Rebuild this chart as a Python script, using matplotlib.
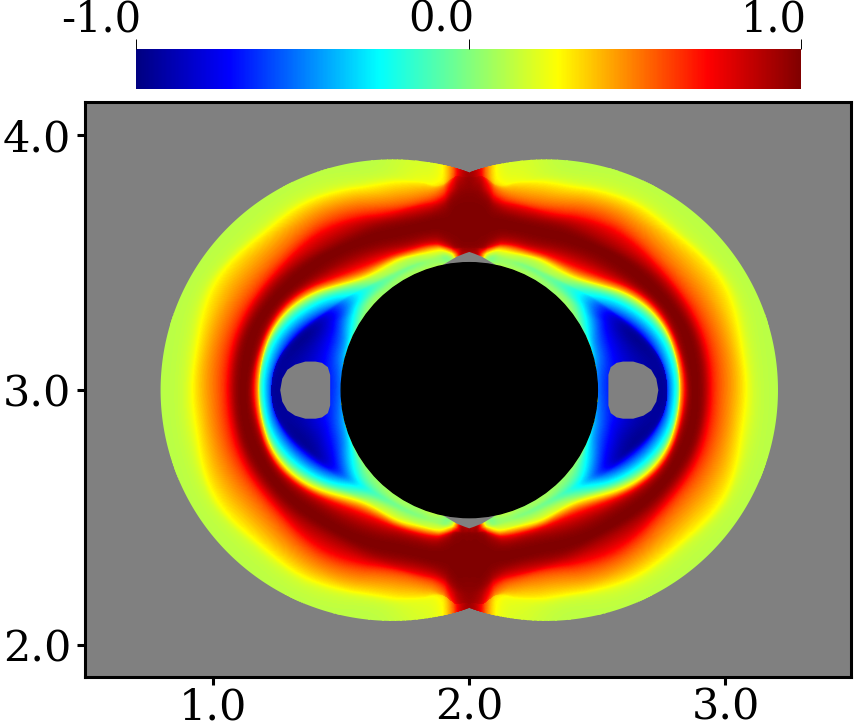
import matplotlib
matplotlib.use("Agg")
import matplotlib.pyplot as plt
import matplotlib.tri as mtri
import numpy as np
from matplotlib.cm import ScalarMappable
from matplotlib.colors import LinearSegmentedColormap, Normalize
from matplotlib.patches import Circle, Polygon

plt.rcParams["font.family"] = ["DejaVu Serif"]

# field, one quadrant: rays around (2, 3), angle in degrees
ray_angles = [0, 12, 24, 36, 48, 60, 70, 78, 83, 86, 88, 90]

# radius of each node along a ray
ray_radii = [
    [.50, .520, .740, .775, .805, .824, .840, .858, .885, .914, .941, 1.00, 1.078, 1.137, 1.30],
    [.50, .525, .700, .745, .790, .815, .830, .845, .878, .908, .935, .995, 1.075, 1.135, 1.30],
    [.50, .530, .630, .670, .730, .775, .795, .815, .845, .875, .905, .965, 1.07, 1.12, 1.30],
    [.50, .530, .580, .610, .640, .685, .715, .750, .795, .830, .870, .925, 1.015, 1.07, 1.30],
    [.50, .520, .545, .565, .580, .603, .640, .695, .745, .780, .840, .900, .975, 1.035, 1.25],
    [.50, .515, .530, .545, .560, .585, .610, .650, .700, .745, .785, .840, .910, .970, 1.20],
    [.50, .515, .530, .540, .555, .570, .595, .625, .672, .715, .750, .790, .865, .920, 1.15],
    [.50, .510, .525, .540, .550, .565, .585, .615, .665, .710, .745, .780, .825, .875, 1.10],
    [.50, .510, .520, .530, .540, .550, .565, .590, .660, .720, .750, .785, .810, .850, 1.05],
    [.50, .510, .520, .530, .540, .550, .560, .580, .660, .740, .780, .810, .835, .860, 1.05],
    [.50, .510, .520, .530, .540, .550, .560, .580, .660, .740, .780, .810, .835, .860, 1.05],
    [.50, .510, .520, .530, .540, .550, .560, .580, .660, .740, .780, .810, .835, .860, 1.05],
]

# field value at those nodes
ray_values = [
    [.05, -.60, -.95, -.72, -.27, .27, .65, .92, 1.0, .92, .72, .50, .27, .14, .10],
    [.05, -.55, -.95, -.72, -.27, .27, .65, .92, 1.0, .92, .72, .50, .27, .14, .10],
    [.05, -.45, -.88, -.72, -.27, .27, .65, .92, 1.0, .92, .72, .50, .27, .14, .10],
    [.05, -.15, -.45, -.38, -.20, .27, .65, .92, 1.0, .92, .72, .50, .27, .14, .10],
    [.05, .00, -.12, -.05, .05, .27, .65, .92, 1.0, .92, .72, .50, .27, .14, .10],
    [.05, .05, -.02, .02, .10, .27, .65, .92, 1.0, .92, .72, .50, .27, .14, .10],
    [.10, .05, .02, .05, .12, .27, .65, .92, 1.0, .92, .72, .50, .27, .15, .11],
    [.10, .05, .03, .07, .15, .30, .65, .92, 1.0, .92, .72, .50, .30, .20, .14],
    [.20, .10, .08, .15, .25, .45, .75, .95, 1.0, .95, .82, .60, .40, .27, .20],
    [.60, .60, .60, .70, .75, .80, .90, .98, 1.0, .98, .90, .80, .65, .55, .45],
    [.80, .80, .80, .85, .88, .92, .95, .99, 1.0, .99, .96, .92, .87, .82, .75],
    [.90, .90, .90, .90, .91, .93, .96, .99, 1.0, .99, .97, .95, .93, .92, .90],
]

# colour bar stops as seen on the reference bar
cmap_stops = [-1.0, -0.72, -0.27, 0.27, 0.72, 1.0]
cmap_colors = ["#000080", "#0000ff", "#00ffff", "#ffff00", "#ff0000", "#800000"]

# outlines of the grey spots, upper right quadrant, relative to (2, 3)
hole_x = [.543, .543, .552, .575, .600, .640, .680, .710, .730, .738]
hole_y = [0, .060, .090, .107, .112, .112, .100, .080, .045, 0]
bump_x = [.105, .050, .020, 0]
bump_y = [.490, .523, .535, .542]

x_ticks = [1.0, 2.0, 3.0]
y_ticks = [2.0, 3.0, 4.0]
cbar_ticks = [-1.0, 0.0, 1.0]

cmap = LinearSegmentedColormap.from_list(
    "field", [((s + 1) / 2, c) for s, c in zip(cmap_stops, cmap_colors)], N=512)

fig = plt.figure(figsize=(8.56, 7.28), dpi=100)
W, H = 856, 728
ax = fig.add_axes([85 / W, 1 - 677 / H, 766 / W, 575 / H])
ax.set_xlim(0.5, 3.49)
ax.set_ylim(1.875, 4.13)
ax.set_facecolor("#808080")

# right half: mirror the table across y=3, then smooth it on the node index mesh
radii = np.vstack([np.array(ray_radii)[:0:-1], ray_radii])
values = np.vstack([np.array(ray_values)[:0:-1], ray_values])
angles = np.r_[-np.array(ray_angles)[:0:-1], ray_angles]
n_rays, n_nodes = radii.shape
uu, vv = np.meshgrid(np.arange(n_rays), np.arange(n_nodes), indexing="ij")
tris = []
for i in range(n_rays - 1):
    for j in range(n_nodes - 1):
        a = i * n_nodes + j
        b = a + n_nodes
        tris.append([a, b, a + 1])
        tris.append([b, b + 1, a + 1])
index_mesh = mtri.Triangulation(uu.ravel().astype(float), vv.ravel().astype(float), np.array(tris))
refiner = mtri.UniformTriRefiner(index_mesh)
fine_mesh, fine_r = refiner.refine_field(radii.ravel(), subdiv=3)
_, fine_z = refiner.refine_field(values.ravel(), subdiv=3)
fine_t = np.radians(np.interp(fine_mesh.x, np.arange(n_rays), angles))
px = fine_r * np.cos(fine_t)
py = 3 + fine_r * np.sin(fine_t)
nfine = len(px)
tri = mtri.Triangulation(np.r_[2 + px, 2 - px], np.r_[py, py],
                         np.vstack([fine_mesh.triangles, fine_mesh.triangles + nfine]))
field = ax.tricontourf(tri, np.r_[fine_z, fine_z], levels=np.linspace(-1, 1, 257),
                       cmap=cmap, extend="both", zorder=1)

# two overlapping discs make the domain
lobe_c, lobe_r = 0.3, 0.905
cusp = np.arccos(-lobe_c / lobe_r)
t = np.linspace(-cusp, cusp, 300)
right = np.column_stack([2 + lobe_c + lobe_r * np.cos(t), 3 + lobe_r * np.sin(t)])
left = np.column_stack([2 - lobe_c - lobe_r * np.cos(t), 3 - lobe_r * np.sin(t)])
domain = Polygon(np.vstack([right, left]), closed=True, transform=ax.transData)
field.set_clip_path(domain)

ax.add_patch(Circle((2, 3), 0.5, color="black", zorder=3))

hx, hy = np.array(hole_x), np.array(hole_y)
for sx in [1, -1]:
    outline = np.column_stack([2 + sx * np.r_[hx, hx[::-1]], 3 + np.r_[hy, -hy[::-1]]])
    ax.add_patch(Polygon(outline, color="#808080", lw=0, zorder=2))
bx, by = np.array(bump_x), np.array(bump_y)
for sy in [1, -1]:
    outline = np.column_stack([2 + np.r_[bx, -bx[::-1]], 3 + sy * np.r_[by, by[::-1]]])
    ax.add_patch(Polygon(outline, color="#808080", lw=0, zorder=2))

ax.set_xticks(x_ticks, [f"{v:.1f}" for v in x_ticks])
ax.set_yticks(y_ticks, [f"{v:.1f}" for v in y_ticks])
ax.tick_params(length=6, width=2.2, labelsize=31, color="black")
ax.tick_params(axis="x", pad=1)
ax.tick_params(axis="y", pad=4)
for spine in ax.spines.values():
    spine.set_linewidth(2.2)

cax = fig.add_axes([136 / W, 1 - 89 / H, 665 / W, 40 / H])
cb = fig.colorbar(ScalarMappable(Normalize(-1, 1), cmap), cax=cax, orientation="horizontal")
cb.outline.set_visible(False)
cax.xaxis.set_ticks_position("top")
cax.set_xticks(cbar_ticks, ["", "", ""])
cax.tick_params(length=7, width=0.7)
for v in cbar_ticks:
    cax.annotate(f"{v:.1f}", xy=(v, 1), xycoords=("data", "axes fraction"),
                 xytext=(4, 6), textcoords="offset points",
                 ha="right", va="bottom", fontsize=30, annotation_clip=False)

fig.savefig("out.png", dpi=100)
